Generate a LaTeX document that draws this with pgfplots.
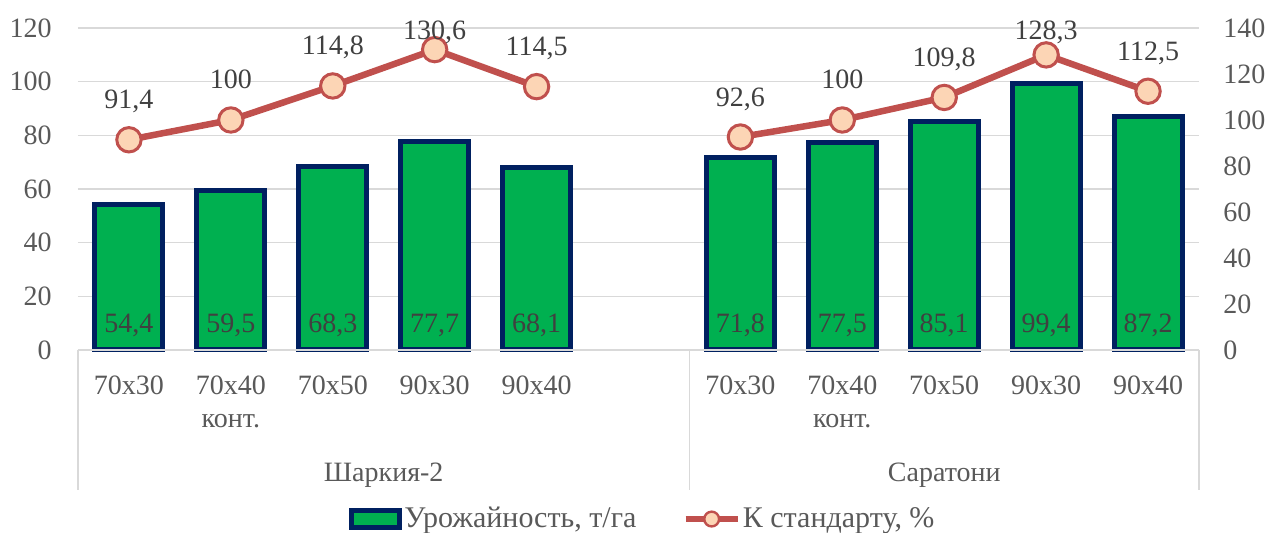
\documentclass[border=0pt]{standalone}
\usepackage{pgfplots}
\pgfplotsset{compat=1.18}
\usepackage{pgfplotstable}
\usepackage{fontspec}
\setmainfont{Liberation Serif}
\definecolor{cnavy}{HTML}{002060}
\definecolor{cgreen}{HTML}{00B050}
\definecolor{cred}{HTML}{C0504D}
\definecolor{cpeach}{HTML}{FCD5B5}
\definecolor{ctext}{HTML}{595959}
\definecolor{clabel}{HTML}{404040}
\definecolor{cgrid}{HTML}{D9D9D9}

\pgfplotstableread{
x y
0 54.4
1 59.5
2 68.3
3 77.7
4 68.1
6 71.8
7 77.5
8 85.1
9 99.4
10 87.2
}\yield

\pgfplotstableread{
x y
0 91.4
1 100
2 114.8
3 130.6
4 114.5
5 nan
6 92.6
7 100
8 109.8
9 128.3
10 112.5
}\pct

\newcommand{\ff}{\fontsize{14}{16.5}\selectfont}
\newcommand{\fl}{\fontsize{15}{18}\selectfont}

\begin{document}
\begin{tikzpicture}
\useasboundingbox (-39pt,-91.5pt) rectangle (595.5pt,175pt);
\begin{axis}[
  at={(0,0)}, anchor=south west,
  scale only axis, width=560.5pt, height=161pt,
  xmin=-0.5, xmax=10.5, ymin=0, ymax=120,
  ytick={0,20,...,120},
  xtick={0,1,2,3,4,6,7,8,9,10},
  xticklabels={70x30,{70x40\\конт.},70x50,90x30,90x40,70x30,{70x40\\конт.},70x50,90x30,90x40},
  /pgf/number format/assume math mode=true,
  /pgf/number format/use comma,
  axis line style={draw=none},
  major tick length=0pt,
  ymajorgrids, grid style={cgrid, line width=0.75pt},
  tick label style={font=\ff, text=ctext},
  yticklabel style={inner sep=0pt, anchor=east, xshift=-13pt},
  xticklabel style={align=center, inner sep=0pt, anchor=north, yshift=-12.5pt},
  clip=false,
  legend style={draw=none, fill=none, at={(0.504,-0.525)}, anchor=center,
    font=\fl, text=ctext, inner sep=0pt,
    nodes={inner sep=1pt},
    /tikz/every even column/.append style={column sep=22pt}},
  legend columns=-1,
]
\addplot[ybar, bar width=34pt, bar shift=0pt, draw=cnavy, fill=cgreen, line width=2.5pt,
  legend image code/.code={\draw[draw=cnavy, fill=cgreen, line width=2.5pt] (0pt,-4.25pt) rectangle (24pt,4.25pt);}]
  table[x=x,y=y]{\yield};
\addlegendentry{Урожайность, т/га}
\addlegendimage{legend image code/.code={
  \draw[cred, line width=3.25pt] (0pt,0pt) -- (26pt,0pt);
  \draw[draw=cred, fill=cpeach, line width=1.2pt] (13pt,0pt) circle (3.7pt);}}
\addlegendentry{К стандарту, \%}
\addplot[forget plot, draw=none, mark=none, nodes near coords, point meta=explicit,
  nodes near coords style={anchor=base, yshift=8.5pt, text=clabel, font=\ff}]
  table[x=x, y expr=0, meta=y]{\yield};
\draw[cgrid, line width=0.75pt] (axis cs:-0.5,0) -- (axis cs:10.5,0);
\draw[cgrid, line width=0.75pt] (axis cs:-0.5,0) -- ++(0pt,-70pt);
\draw[cgrid, line width=0.75pt] (axis cs:5.5,0) -- ++(0pt,-70pt);
\draw[cgrid, line width=0.75pt] (axis cs:10.5,0) -- ++(0pt,-70pt);
\node[anchor=base, font=\ff, text=ctext] at ([yshift=-66pt]axis cs:2.5,0) {Шаркия-2};
\node[anchor=base, font=\ff, text=ctext] at ([yshift=-66pt]axis cs:8,0) {Саратони};
\end{axis}

\begin{axis}[
  at={(0,0)}, anchor=south west,
  scale only axis, width=560.5pt, height=161pt,
  xmin=-0.5, xmax=10.5, ymin=0, ymax=140,
  ytick={0,20,...,140},
  hide x axis,
  axis y line*=right,
  axis line style={draw=none},
  major tick length=0pt,
  /pgf/number format/assume math mode=true,
  /pgf/number format/use comma,
  tick label style={font=\ff, text=ctext},
  yticklabel style={inner sep=0pt, anchor=west, xshift=12pt},
  clip=false,
]
\addplot[cred, line width=3.25pt, mark=*, mark size=6.1pt,
  mark options={fill=cpeach, draw=cred, line width=1.5pt},
  unbounded coords=jump,
  nodes near coords,
  visualization depends on={rawy \as \ry},
  nodes near coords style={anchor=base, text=clabel, font=\ff,
    yshift={min(15.5pt, 155pt-\ry*1.15pt)}}]
  table[x=x,y=y]{\pct};
\end{axis}
\end{tikzpicture}
\end{document}
